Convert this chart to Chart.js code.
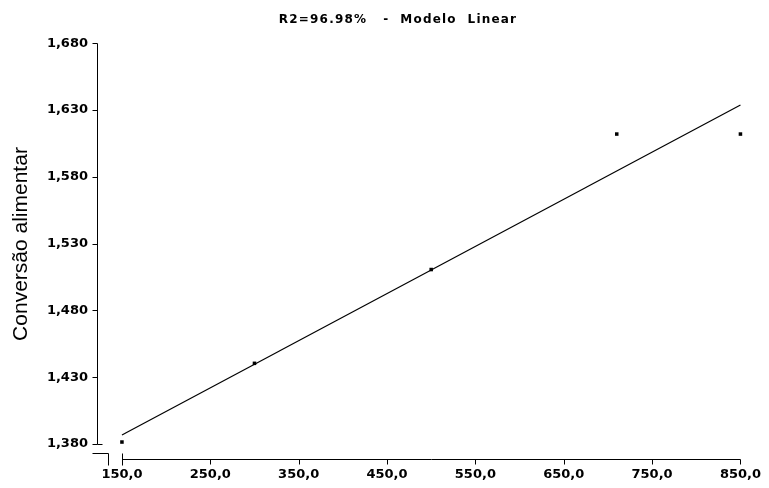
<!DOCTYPE html>
<html>
<head>
<meta charset="utf-8">
<script src="https://cdn.jsdelivr.net/npm/chart.js@4.4.1/dist/chart.umd.min.js"></script>
<style>
  html, body { margin: 0; padding: 0; background: #fff; }
  #wrap { width: 769px; height: 488px; }
</style>
</head>
<body>
<div id="wrap"><canvas id="chart"></canvas></div>
<script>
const doses     = [150, 300, 500, 710, 850];
const conversao = [1.3815, 1.4404, 1.5106, 1.612, 1.612];
const fitX      = [150, 850];
const fitY      = [1.3867, 1.6337];
const xTicks    = [150, 250, 350, 450, 550, 650, 750, 850];
const yTicks    = [1.38, 1.43, 1.48, 1.53, 1.58, 1.63, 1.68];
const titleText = 'R2=96.98%   -  Modelo  Linear';
const yTitle    = 'Conversão alimentar';

const BOLD = { family: 'DejaVu Sans', size: 13, weight: 'bold', lineHeight: 1.2 };

const fmtComma = (v, d) => v.toFixed(d).replace('.', ',');

// axis lines, tick marks, the broken-axis marks at the origin, titles
const axesPlugin = {
  id: 'axes',
  afterDraw(chart) {
    const { ctx, chartArea } = chart;
    const xs = chart.scales.x, ys = chart.scales.y;
    const x0 = Math.round(chartArea.left) - 0.5;
    const yTop = Math.round(ys.getPixelForValue(yTicks[yTicks.length - 1])) + 0.5;
    const yLow = Math.round(ys.getPixelForValue(yTicks[0])) + 0.5;
    const xAx  = Math.round(chartArea.bottom) + 0.5;
    const xL   = Math.round(xs.getPixelForValue(xTicks[0])) + 0.5;
    const xR   = Math.round(xs.getPixelForValue(xTicks[xTicks.length - 1])) + 0.5;

    ctx.save();
    ctx.strokeStyle = '#000';
    ctx.lineWidth = 1;
    ctx.beginPath();
    // y axis
    ctx.moveTo(x0, yTop); ctx.lineTo(x0, yLow);
    for (const v of yTicks) {
      const p = Math.round(ys.getPixelForValue(v)) + 0.5;
      ctx.moveTo(x0 - 5, p); ctx.lineTo(x0, p);
    }
    ctx.moveTo(x0, yLow); ctx.lineTo(x0 + 5, yLow);
    // break stub
    ctx.moveTo(x0 - 5, yLow + 9); ctx.lineTo(x0 + 11, yLow + 9);
    ctx.lineTo(x0 + 11, yLow + 21);
    // x axis
    ctx.moveTo(xL, xAx - 6); ctx.lineTo(xL, xAx + 6);
    ctx.moveTo(xL, xAx); ctx.lineTo(xR, xAx);
    for (const v of xTicks) {
      const p = Math.round(xs.getPixelForValue(v)) + 0.5;
      ctx.moveTo(p, xAx); ctx.lineTo(p, xAx + 5);
    }
    ctx.stroke();

    ctx.fillStyle = '#000';
    ctx.textAlign = 'center';
    ctx.textBaseline = 'middle';

    // chart title, wide-spaced like the original bitmap font
    ctx.font = 'bold 12px "DejaVu Sans", sans-serif';
    ctx.letterSpacing = '1.2px';
    ctx.fillText(titleText, 398, 20);
    ctx.letterSpacing = '0px';

    // y title
    ctx.font = '21px "Liberation Sans", Arial, sans-serif';
    ctx.translate(21, (yTop + yLow) / 2);
    ctx.rotate(-Math.PI / 2);
    ctx.fillText(yTitle, 0, 0);
    ctx.restore();
  }
};

new Chart(document.getElementById('chart'), {
  type: 'scatter',
  data: {
    datasets: [
      {
        data: doses.map((d, i) => ({ x: d, y: conversao[i] })),
        pointStyle: 'rect',
        pointRadius: 2.5,
        pointBorderWidth: 0,
        backgroundColor: '#000',
        borderColor: '#000',
        clip: false,
      },
      {
        data: fitX.map((d, i) => ({ x: d, y: fitY[i] })),
        showLine: true,
        pointRadius: 0,
        borderColor: '#000',
        borderWidth: 1.2,
        clip: false,
      },
    ],
  },
  options: {
    responsive: true,
    maintainAspectRatio: false,
    animation: false,
    layout: { padding: { left: 0, right: 28, top: 43.2, bottom: 0 } },
    plugins: {
      legend: { display: false },
      tooltip: { enabled: false },
      title: { display: false },
    },
    scales: {
      x: {
        type: 'linear',
        min: 122.9,
        max: 850,
        grid: { display: false, drawTicks: false },
        border: { display: false },
        ticks: {
          color: '#000', font: BOLD, padding: 8, autoSkip: false, maxRotation: 0,
          callback: v => fmtComma(v, 1),
        },
        afterBuildTicks: s => { s.ticks = xTicks.map(v => ({ value: v })); },
        afterFit: s => { s.height = 29; },
      },
      y: {
        min: 1.3688,
        max: 1.68,
        grid: { display: false, drawTicks: false },
        border: { display: false },
        ticks: {
          color: '#000', font: BOLD, padding: 10, autoSkip: false,
          callback: v => fmtComma(v, 3),
        },
        afterBuildTicks: s => { s.ticks = yTicks.map(v => ({ value: v })); },
        afterFit: s => { s.width = 98; },
      },
    },
  },
  plugins: [axesPlugin],
});
</script>
</body>
</html>
